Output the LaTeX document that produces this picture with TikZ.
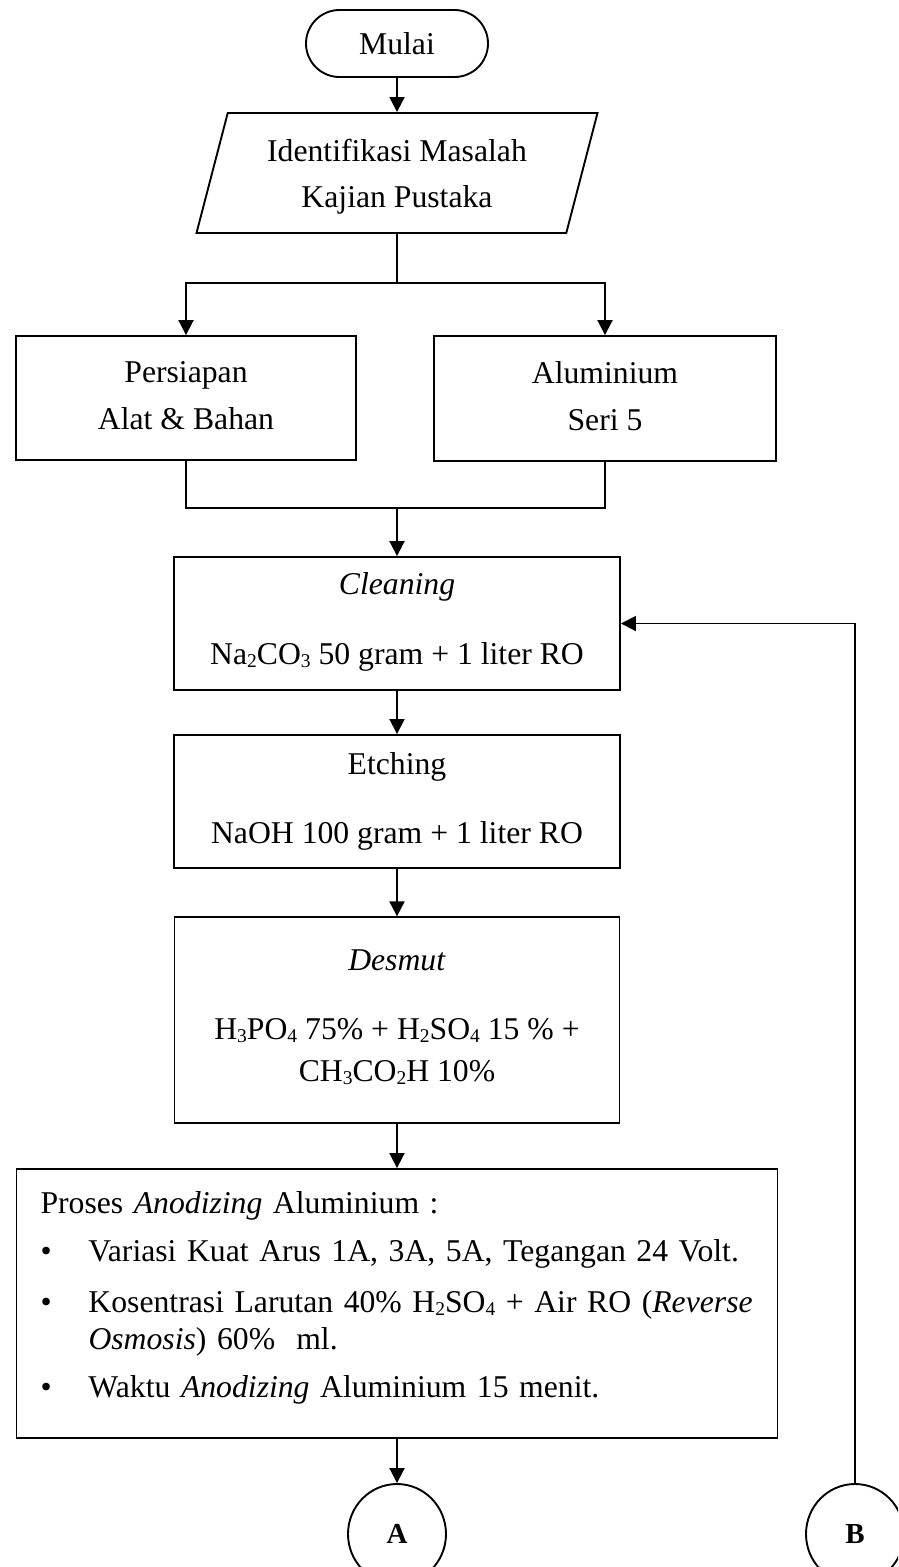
\documentclass[tikz,border=0pt]{standalone}
\usepackage{fontspec}
\setmainfont{Liberation Serif}
\usetikzlibrary{shapes.geometric,arrows.meta}
\newcommand{\chsub}[1]{\raisebox{-3pt}{\fontsize{19.5}{20}\selectfont #1}}
\begin{document}
\begin{tikzpicture}[x=1pt,y=-1pt,
  every node/.style={font=\fontsize{31.7}{36.5}\selectfont},
  box/.style={draw,line width=1.9pt,rectangle,inner sep=0pt,align=center},
  arr/.style={line width=1.9pt,-{Triangle[length=15pt,width=15pt]}},
  ln/.style={line width=1.9pt},
  conn/.style={draw,ellipse,line width=1.9pt,minimum width=98pt,minimum height=100pt,inner sep=0pt,font=\fontsize{29}{32}\selectfont\bfseries}
]
\clip (0,0) rectangle (898,1567);

\node[draw,line width=1.9pt,rounded corners=33.5pt,minimum width=182pt,minimum height=67pt,inner sep=0pt] (start) at (397,43.5) {Mulai};

\node[draw,line width=1.9pt,trapezium,trapezium left angle=73.7,trapezium right angle=106.3,trapezium stretches,minimum width=403pt,minimum height=120pt,inner sep=0pt,align=center] (io) at (397,173) {\rule{0pt}{29.7pt}Identifikasi Masalah\\[9pt]Kajian Pustaka};

\node[box,minimum width=340pt,minimum height=124pt] (prep) at (186,398) {Persiapan\\[10.5pt]Alat \& Bahan\rule[-5pt]{0pt}{1pt}};
\node[box,minimum width=342pt,minimum height=125pt] (alum) at (605,398.5) {Aluminium\\[11pt]Seri 5\rule[-5pt]{0pt}{1pt}};

\coordinate (split) at (397,283);
\coordinate (merge) at (397,508);

\node[box,minimum width=446pt,minimum height=133pt] (clean) at (397,623.5) {\textit{Cleaning}\\[33.5pt]Na\chsub{2}CO\chsub{3} 50 gram + 1 liter RO\rule[-11pt]{0pt}{1pt}};

\node[box,minimum width=446pt,minimum height=133pt] (etch) at (397,801.5) {Etching\\[32.5pt]NaOH 100 gram + 1 liter RO};

\node[box,minimum width=445pt,minimum height=206pt] (desmut) at (397,1020.3) {\textit{Desmut}\\[32.5pt]H\chsub{3}PO\chsub{4} 75\% + H\chsub{2}SO\chsub{4} 15 \% +\\[5.2pt]CH\chsub{3}CO\chsub{2}H 10\%\rule[-10pt]{0pt}{1pt}};

\node[box,minimum width=761pt,minimum height=269pt,text width=713pt,align=left] (proses) at (397,1303.5) {\mbox{Proses \textit{Anodizing} Aluminium :}\\[11.5pt]
\mbox{\makebox[48pt][l]{•}Variasi Kuat Arus 1A, 3A, 5A, Tegangan 24 Volt.}\\[14.5pt]
\mbox{\makebox[48pt][l]{•}Kosentrasi Larutan 40\% H\chsub{2}SO\chsub{4} + Air RO (\textit{Reverse}}\\
\mbox{\hspace*{48pt}\textit{Osmosis}) 60\%~ ml.}\\[11.5pt]
\mbox{\makebox[48pt][l]{•}Waktu \textit{Anodizing} Aluminium 15 menit.\rule[-18pt]{0pt}{1pt}}};

\node[conn] (A) at (397,1534) {A};
\node[conn] (B) at (855,1534) {B};

\draw[arr] (start) -- (io);
\draw[ln] (io.south) -- (split);
\draw[arr] (split) -| (prep.north);
\draw[arr] (split) -| (alum.north);
\draw[ln] (prep.south) |- (merge);
\draw[ln] (alum.south) |- (merge);
\draw[arr] (merge) -- (clean.north);
\draw[arr] (clean) -- (etch);
\draw[arr] (etch) -- (desmut);
\draw[arr] (desmut) -- (proses);
\draw[arr] (proses) -- (A);
\draw[arr] (B.north) |- (clean.east);
\end{tikzpicture}
\end{document}
